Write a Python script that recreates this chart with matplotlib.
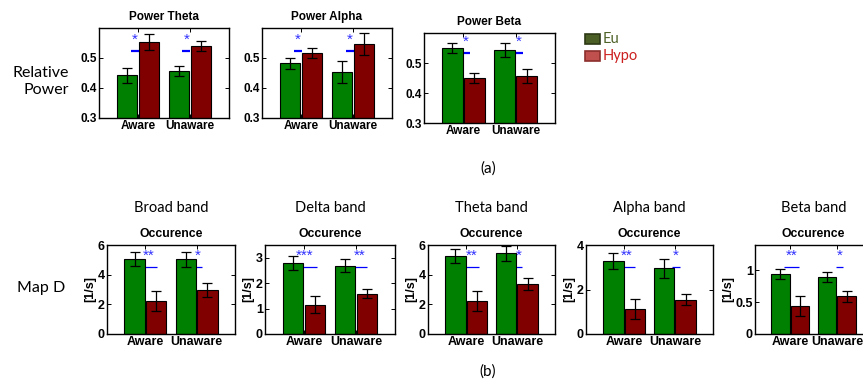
# Relative power and Map D occurrence, Eu vs Hypo, Aware / Unaware
from matplotlib import pyplot as plt
from matplotlib.patches import Rectangle
import numpy as np

W, H = 863, 385
BOLD = 'Liberation Sans'
SOFT = 'Lato'

categories = ['Aware', 'Unaware']
eu_color = '#008000'
hypo_color = '#800000'

# ---- (a) relative power ----
power_titles = ['Power Theta', 'Power Alpha', 'Power Beta']
power_eu = [[0.443, 0.457], [0.483, 0.453], [0.550, 0.543]]
power_eu_err = [[0.025, 0.018], [0.018, 0.037], [0.017, 0.023]]
power_hypo = [[0.553, 0.540], [0.517, 0.547], [0.450, 0.457]]
power_hypo_err = [[0.027, 0.018], [0.017, 0.037], [0.018, 0.022]]
power_sig = [['*', '*'], ['*', '*'], ['*', '*']]
power_yticks = [0.3, 0.4, 0.5]
power_yticklabels = ['0.3', '0.4', '0.5']

# ---- (b) Map D occurrence ----
band_titles = ['Broad band', 'Delta band', 'Theta band', 'Alpha band', 'Beta band']
band_eu = [[5.06, 5.05], [2.80, 2.69], [5.26, 5.45], [3.27, 2.95], [0.95, 0.90]]
band_eu_err = [[0.47, 0.50], [0.28, 0.25], [0.45, 0.50], [0.36, 0.43], [0.08, 0.08]]
band_hypo = [[2.22, 2.97], [1.15, 1.58], [2.22, 3.37], [1.14, 1.55], [0.44, 0.59]]
band_hypo_err = [[0.67, 0.47], [0.33, 0.18], [0.70, 0.43], [0.45, 0.23], [0.15, 0.08]]
band_sig = [['**', '*'], ['***', '**'], ['**', '*'], ['**', '*'], ['**', '*']]
band_ylim = [6, 3.5, 6, 4, 1.4]
band_yticks = [[0, 2, 4, 6], [0, 1, 2, 3], [0, 2, 4, 6], [0, 2, 4], [0, 0.5, 1]]
band_yticklabels = [['0', '2', '4', '6'], ['0', '1', '2', '3'], ['0', '2', '4', '6'],
                    ['0', '2', '4'], ['0', '0.5', '1']]

fig = plt.figure(figsize=(W / 100, H / 100), dpi=100)


def px_axes(x0, y0, x1, y1):
    return fig.add_axes([x0 / W, 1 - y1 / H, (x1 - x0) / W, (y1 - y0) / H])


def draw_bars(ax, eu, eu_err, hypo, hypo_err, sig, star_off, line_y, star_y, line_w, fs):
    x = np.arange(1, len(categories) + 1)
    ax.bar(x - 0.21, eu, 0.4, color=eu_color, edgecolor='k', linewidth=0.8, zorder=2)
    ax.bar(x + 0.21, hypo, 0.4, color=hypo_color, edgecolor='k', linewidth=0.8, zorder=2)
    ax.errorbar(x - 0.21, eu, yerr=eu_err, fmt='none', ecolor='k', elinewidth=0.9,
                capsize=3.3, capthick=0.9, zorder=3)
    ax.errorbar(x + 0.21, hypo, yerr=hypo_err, fmt='none', ecolor='k', elinewidth=0.9,
                capsize=3.3, capthick=0.9, zorder=3)
    tr = ax.get_xaxis_transform()
    for i in range(len(x)):
        xs = x[i] + star_off[i]
        half = 0.075 * len(sig[i])
        ax.plot([xs - half, xs + half], [line_y, line_y], color='#0000ff',
                linewidth=line_w, transform=tr, zorder=1.5, solid_capstyle='butt')
        ax.text(xs, star_y, sig[i], color='#3030ff', fontsize=11, family=BOLD,
                ha='center', va='center', transform=tr, zorder=5)
    ax.set_xlim(0.25, 2.75)
    ax.set_xticks(x)
    ax.set_xticklabels(categories, fontsize=fs, fontweight='bold', family=BOLD)
    ax.tick_params(direction='in', length=3, width=0.7, top=True, right=True, pad=1.5)
    for s in ax.spines.values():
        s.set_linewidth(1.0)


# top row
power_boxes = [(99, 28, 229, 118), (262, 28, 392, 118), (424, 33, 555, 123)]
power_star_off = [[-0.06, -0.07], [-0.06, -0.06], [0.05, 0.06]]
power_line_y = [0.745, 0.745, 0.78]
power_star_y = [0.87, 0.87, 0.90]
for k in range(3):
    ax = px_axes(*power_boxes[k])
    draw_bars(ax, power_eu[k], power_eu_err[k], power_hypo[k], power_hypo_err[k],
              power_sig[k], power_star_off[k], power_line_y[k], power_star_y[k], 1.6, 8.5)
    ax.set_ylim(0.3, 0.6)
    ax.set_yticks(power_yticks)
    ax.set_yticklabels(power_yticklabels, fontsize=8.5, fontweight='bold', family=BOLD)
    ax.set_title(power_titles[k], fontsize=8.5, fontweight='bold', family=BOLD, pad=6)

# bottom row
band_boxes = [(107, 245, 235, 334), (265, 245, 395, 334), (428, 245, 555, 334),
              (586, 245, 713, 334), (755, 245, 872, 334)]
band_star_off = [[0.07, 0.03], [0.02, 0.07], [0.10, 0.03], [0.06, 0.02], [0.03, 0.05]]
for k in range(5):
    ax = px_axes(*band_boxes[k])
    draw_bars(ax, band_eu[k], band_eu_err[k], band_hypo[k], band_hypo_err[k],
              band_sig[k], band_star_off[k], 0.758, 0.88, 0.9, 9)
    ax.set_ylim(0, band_ylim[k])
    ax.set_yticks(band_yticks[k])
    ax.set_yticklabels(band_yticklabels[k], fontsize=9, fontweight='bold', family=BOLD)
    ax.set_ylabel('[1/s]', fontsize=9, fontweight='bold', family=BOLD, labelpad=1)
    ax.set_title('Occurence', fontsize=8.8, fontweight='bold', family=BOLD, pad=6)
    ax.text(0.5, 1 + 37 / 89, band_titles[k], transform=ax.transAxes, ha='center',
            va='center', fontsize=10.5, family=SOFT)

# row labels and panel letters
fig.text(69 / W, 1 - 73 / H, 'Relative', ha='right', va='center', fontsize=11.5, family=SOFT)
fig.text(69 / W, 1 - 90 / H, 'Power', ha='right', va='center', fontsize=11.5, family=SOFT)
fig.text(41 / W, 1 - 288 / H, 'Map D', ha='center', va='center', fontsize=11.5, family=SOFT)
fig.text(488 / W, 1 - 169 / H, '(a)', ha='center', va='center', fontsize=11, family=SOFT)
fig.text(488 / W, 1 - 372 / H, '(b)', ha='center', va='center', fontsize=11, family=SOFT)

# legend
fig.add_artist(Rectangle((585 / W, 1 - 44 / H), 15 / W, 10 / H, transform=fig.transFigure,
                         facecolor='#4b5e26', edgecolor='#2c3814', linewidth=1.2))
fig.add_artist(Rectangle((585 / W, 1 - 61 / H), 15 / W, 10 / H, transform=fig.transFigure,
                         facecolor='#c0504d', edgecolor='#8c2f2d', linewidth=1.2))
fig.text(603 / W, 1 - 39 / H, 'Eu', color='#4f6228', va='center', fontsize=10.5, family=SOFT)
fig.text(603 / W, 1 - 56 / H, 'Hypo', color='#cc1f1f', va='center', fontsize=10.5, family=SOFT)

plt.savefig('out.png', dpi=100)
